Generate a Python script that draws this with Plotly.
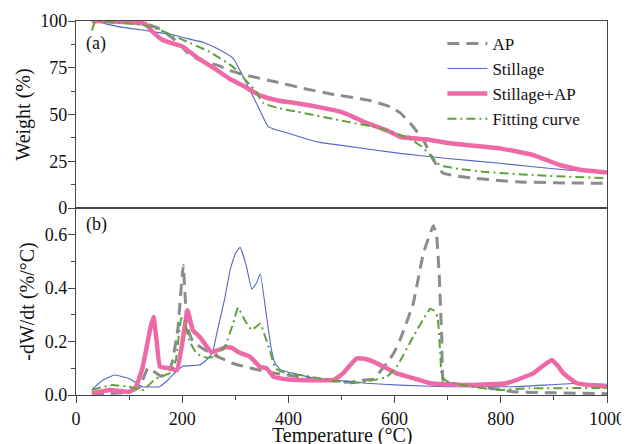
import plotly.graph_objects as go

# ---------------- TG data (Weight %) ----------------
T_ap_tg = [30, 60, 100, 130, 160, 190, 210, 234, 270, 284, 320, 375, 428, 480, 550, 591, 610, 629, 654, 673, 691, 720, 748, 830, 900, 1000]
W_ap = [100, 99.6, 99.2, 98.6, 95.5, 89, 83, 79, 76, 74, 71, 67.5, 64, 61, 57.7, 54.2, 51, 45.4, 36.4, 25.7, 18.7, 17, 16, 14, 13.5, 13.2]

T_st_tg = [30, 39, 80, 133, 180, 208, 240, 265, 296, 321, 346, 362, 375, 390, 422, 459, 500, 610, 700, 798, 924, 1000]
W_st = [100, 99.6, 97, 94.8, 92.8, 90.7, 88.5, 85.4, 80, 66.7, 52.4, 43.5, 42, 40.8, 38, 35.1, 33.5, 29.2, 26.5, 23.9, 20.3, 19]

T_mix_tg = [30, 60, 100, 130, 144, 163, 201, 226, 264, 290, 314, 339, 353, 380, 416, 460, 497, 520, 541, 591, 610, 667, 704, 798, 861, 911, 950, 1000]
W_mix = [100, 99.8, 99.5, 98.5, 94.3, 89.8, 86.3, 80.9, 74, 69, 65.5, 61.3, 59.5, 57.5, 56, 53.8, 51.5, 49, 46.2, 40.8, 38.1, 36.4, 34.6, 31.9, 28.3, 23, 20.5, 19]

T_fit_tg = [30, 35, 40, 80, 125, 160, 195, 251, 295, 339, 353, 380, 416, 510, 573, 629, 650, 667, 680, 690, 720, 767, 861, 1000]
W_fit = [95, 99, 100, 99, 97.9, 95, 90.7, 83.6, 75.6, 62.2, 56, 53.5, 51.5, 46.2, 42.6, 37, 33, 28.5, 24, 22.5, 21, 19.4, 17.6, 15.9]

# ---------------- DTG data (-dW/dt, %/°C) ----------------
T_ap_dtg = [30, 60, 100, 120, 135, 145, 160, 175, 182, 192, 198, 202, 206, 210, 220, 234, 260, 296, 330, 359, 397, 450, 500, 520, 537, 560, 585, 598, 610, 635, 654, 673, 679, 684, 689, 692, 720, 761, 800, 824, 900, 1000]
D_ap = [0.0, 0.005, 0.01, 0.03, 0.1, 0.09, 0.07, 0.09, 0.13, 0.25, 0.4, 0.485, 0.35, 0.25, 0.2, 0.18, 0.15, 0.118, 0.1, 0.087, 0.075, 0.06, 0.05, 0.048, 0.055, 0.06, 0.118, 0.155, 0.205, 0.342, 0.529, 0.634, 0.6, 0.45, 0.2, 0.05, 0.04, 0.031, 0.02, 0.012, 0.008, 0.005]

T_st_dtg = [30, 50, 72, 100, 125, 157, 175, 188, 201, 232, 245, 257, 265, 280, 290, 300, 309, 320, 331, 340, 347, 359, 368, 375, 385, 397, 409, 459, 485, 547, 610, 698, 823, 949, 1000]
D_st = [0.02, 0.055, 0.075, 0.062, 0.031, 0.031, 0.06, 0.087, 0.108, 0.112, 0.13, 0.157, 0.23, 0.36, 0.466, 0.53, 0.553, 0.49, 0.396, 0.42, 0.454, 0.292, 0.17, 0.118, 0.095, 0.087, 0.081, 0.058, 0.056, 0.044, 0.037, 0.031, 0.031, 0.044, 0.04]

T_mix_dtg = [30, 63, 100, 113, 125, 132, 140, 146, 152, 158, 176, 190, 201, 210, 220, 234, 255, 270, 284, 295, 306, 328, 346, 359, 372, 400, 450, 485, 503, 520, 529, 545, 560, 585, 604, 640, 667, 729, 811, 861, 880, 896, 907, 918, 943, 1000]
D_mix = [0.006, 0.019, 0.012, 0.031, 0.1, 0.168, 0.25, 0.292, 0.2, 0.106, 0.1, 0.093, 0.205, 0.317, 0.243, 0.215, 0.16, 0.17, 0.18, 0.175, 0.16, 0.143, 0.106, 0.1, 0.068, 0.058, 0.055, 0.056, 0.081, 0.12, 0.137, 0.135, 0.125, 0.1, 0.081, 0.06, 0.044, 0.037, 0.044, 0.081, 0.11, 0.131, 0.11, 0.081, 0.044, 0.031]

T_fit_dtg = [30, 50, 69, 100, 126, 151, 176, 188, 198, 203, 213, 227, 245, 259, 280, 296, 305, 318, 331, 347, 356, 365, 375, 384, 397, 422, 516, 547, 585, 604, 635, 667, 675, 681, 686, 689, 700, 729, 792, 855, 1000]
D_fit = [0.019, 0.03, 0.037, 0.031, 0.019, 0.062, 0.081, 0.13, 0.286, 0.29, 0.205, 0.155, 0.14, 0.143, 0.18, 0.268, 0.327, 0.28, 0.243, 0.268, 0.22, 0.168, 0.1, 0.09, 0.081, 0.075, 0.044, 0.05, 0.068, 0.106, 0.218, 0.323, 0.315, 0.292, 0.155, 0.068, 0.05, 0.037, 0.019, 0.025, 0.026]

names = ["AP", "Stillage", "Stillage+AP", "Fitting curve"]
styles = [
    dict(color="#8c8c8c", width=3, dash="12px,7px"),
    dict(color="#5566c8", width=1.1),
    dict(color="#ee6aa7", width=4.5),
    dict(color="#5ea23a", width=2, dash="9px,4px,2px,4px"),
]

tg = [(T_ap_tg, W_ap), (T_st_tg, W_st), (T_mix_tg, W_mix), (T_fit_tg, W_fit)]
dtg = [(T_ap_dtg, D_ap), (T_st_dtg, D_st), (T_mix_dtg, D_mix), (T_fit_dtg, D_fit)]

fig = go.Figure()
for (x, y), n, s in zip(tg, names, styles):
    fig.add_trace(go.Scatter(x=x, y=y, name=n, mode="lines", line=dict(shape="spline", smoothing=0.4, **s),
                             xaxis="x2", yaxis="y2", showlegend=True))
for (x, y), n, s in zip(dtg, names, styles):
    fig.add_trace(go.Scatter(x=x, y=y, name=n, mode="lines", line=dict(shape="spline", smoothing=0.3, **s),
                             xaxis="x", yaxis="y", showlegend=False))

font = "Liberation Serif, Times New Roman, serif"
axline = dict(showline=True, linecolor="#444", linewidth=1.3, mirror=True, showgrid=False, zeroline=False,
              automargin=False)

# the page body adds an 8px offset, so margins are reduced by 8 on the left/top
fig.update_layout(
    width=629, height=444,
    margin=dict(l=68, r=30, t=13, b=57),
    paper_bgcolor="white", plot_bgcolor="white",
    font=dict(family=font, size=18, color="#111"),
    xaxis=dict(domain=[0, 1], range=[0, 1000], anchor="y", tickvals=[0, 200, 400, 600, 800, 1000],
               ticks="outside", ticklen=7, tickcolor="#444",
               minor=dict(tickvals=[100, 300, 500, 700, 900], ticks="outside", ticklen=4, tickcolor="#444"),
               **axline),
    xaxis2=dict(domain=[0, 1], range=[0, 1000], anchor="y2", matches="x", showticklabels=False, ticks="", **axline),
    yaxis=dict(domain=[0, 0.5], range=[0, 0.7], anchor="x", tickvals=[0, 0.2, 0.4, 0.6],
               ticktext=["0.0", "0.2", "0.4", "0.6"], ticklabelstandoff=-3,
               ticks="outside", ticklen=7, tickcolor="#444",
               minor=dict(tickvals=[0.1, 0.3, 0.5], ticks="outside", ticklen=4, tickcolor="#444"),
               title=dict(text="-dW/dt (%/°C)", font=dict(size=20), standoff=4), **axline),
    yaxis2=dict(domain=[0.5, 1], range=[0, 100], anchor="x2", tickvals=[0, 25, 50, 75, 100],
                ticklabelstandoff=-3,
                ticks="outside", ticklen=7, tickcolor="#444",
                minor=dict(tickvals=[12.5, 37.5, 62.5, 87.5], ticks="outside", ticklen=4, tickcolor="#444"),
                title=dict(text="Weight (%)", font=dict(size=20), standoff=4), **axline),
    legend=dict(x=0.69, y=0.987, xanchor="left", yanchor="top", bgcolor="rgba(0,0,0,0)",
                font=dict(size=17), tracegroupgap=0, itemwidth=40),
    annotations=[
        dict(text="(a)", x=0.015, y=0.94, xref="paper", yref="paper", xanchor="left", yanchor="middle",
             showarrow=False, font=dict(size=18)),
        dict(text="(b)", x=0.015, y=0.455, xref="paper", yref="paper", xanchor="left", yanchor="middle",
             showarrow=False, font=dict(size=18)),
        dict(text="Temperature (°C)", x=0.5, y=-0.107, xref="paper", yref="paper", xanchor="center",
             yanchor="middle", showarrow=False, font=dict(size=20)),
    ],
)

fig.write_html("out.html")
